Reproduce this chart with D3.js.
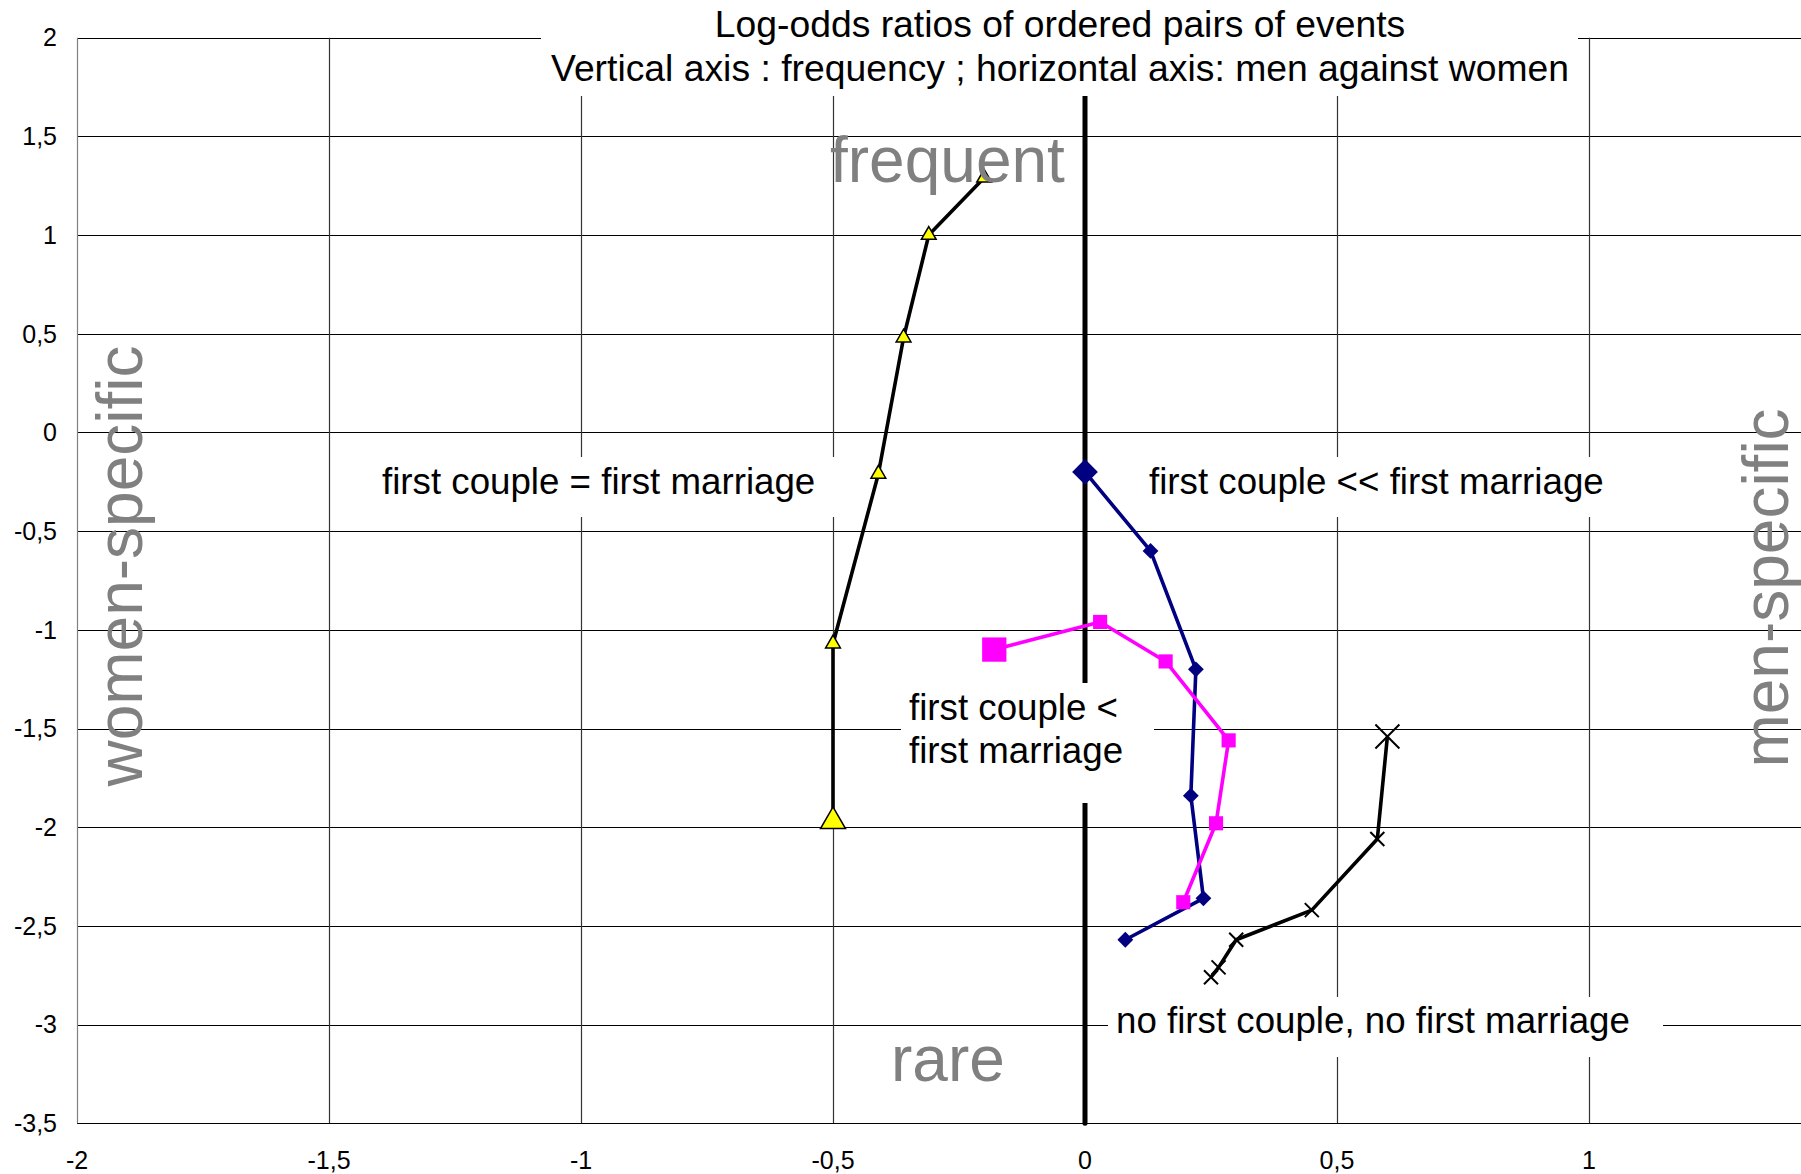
<!DOCTYPE html>
<html>
<head>
<meta charset="utf-8">
<script src="https://cdn.jsdelivr.net/npm/d3@7"></script>
<style>
  body { margin: 0; background: #fff; }
  svg { display: block; font-family: "Liberation Sans", Arial, sans-serif; }
</style>
</head>
<body>
<svg id="graph" width="1801" height="1174"></svg>
<script>
(function() {
// ticks
const xTicks = [-2, -1.5, -1, -0.5, 0, 0.5, 1];
const yTicks = [2, 1.5, 1, 0.5, 0, -0.5, -1, -1.5, -2, -2.5, -3, -3.5];

// series (first point = big marker)
const sameX = [-0.5, -0.5, -0.41, -0.36, -0.31, -0.2];
const sameY = [-1.97, -1.07, -0.21, 0.48, 1.0, 1.29];
const muchX = [0, 0.13, 0.22, 0.21, 0.235, 0.08];
const muchY = [-0.2, -0.6, -1.2, -1.84, -2.36, -2.57];
const lessX = [-0.18, 0.03, 0.16, 0.285, 0.26, 0.195];
const lessY = [-1.1, -0.96, -1.16, -1.56, -1.98, -2.38];
const noneX = [0.6, 0.58, 0.45, 0.3, 0.265, 0.25];
const noneY = [-1.54, -2.06, -2.42, -2.57, -2.71, -2.76];

const titleLines = ['Log-odds ratios of ordered pairs of events',
                    'Vertical axis : frequency ; horizontal axis: men against women'];

const svg_w = 1801;
const svg_h = 1174;

const x = d3.scaleLinear().domain([-2, 1]).range([77, 1589]);
const y = d3.scaleLinear().domain([-3.5, 2]).range([1123.3, 37.7]);

const graph = d3.select('#graph');
const fmt = v => String(v).replace('.', ',');

// grid
graph.append('g').selectAll('line')
  .data(yTicks)
  .enter().append('line')
  .attr('x1', x(-2)).attr('x2', svg_w)
  .attr('y1', d => Math.round(y(d)) + 0.5).attr('y2', d => Math.round(y(d)) + 0.5)
  .attr('stroke', '#000').attr('stroke-width', 1.2);

graph.append('g').selectAll('line')
  .data(xTicks)
  .enter().append('line')
  .attr('x1', d => Math.round(x(d)) + 0.5).attr('x2', d => Math.round(x(d)) + 0.5)
  .attr('y1', y(2)).attr('y2', y(-3.5))
  .attr('stroke', d => d === -2 ? '#808080' : '#333').attr('stroke-width', 1.2);

// tick labels
graph.append('g').selectAll('text')
  .data(yTicks)
  .enter().append('text')
  .attr('x', 57).attr('y', d => y(d))
  .attr('dy', '0.35em')
  .attr('text-anchor', 'end')
  .style('font-size', '25px')
  .text(fmt);

graph.append('g').selectAll('text')
  .data(xTicks)
  .enter().append('text')
  .attr('x', d => x(d)).attr('y', 1160)
  .attr('dy', '0.35em')
  .attr('text-anchor', 'middle')
  .style('font-size', '25px')
  .text(fmt);

// heavy zero line
graph.append('line')
  .attr('x1', x(0)).attr('x2', x(0))
  .attr('y1', y(2)).attr('y2', y(-3.5))
  .attr('stroke', '#000').attr('stroke-width', 5)
  .attr('stroke-linecap', 'round');

// white boxes behind the labels [x0, x1, y0, y1] in pixels
const boxes = [
  [541, 1578, 0, 96],
  [360, 850, 457, 517],
  [1130, 1622, 457, 517],
  [901, 1154, 683, 803],
  [1108, 1663, 997, 1057]
];
graph.append('g').selectAll('rect')
  .data(boxes)
  .enter().append('rect')
  .attr('x', d => d[0]).attr('y', d => d[2])
  .attr('width', d => d[1] - d[0]).attr('height', d => d[3] - d[2])
  .attr('fill', '#fff');

function drawSeries(xs, ys, color, marker) {
  const pts = xs.map((v, i) => ({ x: v, y: ys[i] }));
  const line = d3.line().x(d => x(d.x)).y(d => y(d.y));
  const g = graph.append('g');
  g.append('path')
    .attr('d', line(pts))
    .attr('fill', 'none')
    .attr('stroke', color)
    .attr('stroke-width', 3.6)
    .attr('stroke-linejoin', 'round');
  g.selectAll('.m')
    .data(pts)
    .enter().append('g')
    .attr('class', 'm')
    .attr('transform', d => `translate(${x(d.x)},${y(d.y)})`)
    .each(function(d, i) { marker(d3.select(this), i === 0); });
}

function triangle(sel, big) {
  sel.append('path')
    .attr('d', d3.symbol(d3.symbolTriangle, big ? 270 : 95)())
    .attr('fill', '#ffff00').attr('stroke', '#000').attr('stroke-width', 1.5);
}
function diamond(sel, big) {
  sel.append('path')
    .attr('d', d3.symbol(d3.symbolSquare, big ? 330 : 125)())
    .attr('transform', 'rotate(45)')
    .attr('fill', '#000080');
}
function square(sel, big) {
  sel.append('path')
    .attr('d', d3.symbol(d3.symbolSquare, big ? 590 : 200)())
    .attr('fill', '#ff00ff');
}
function cross(sel, big) {
  const r = big ? 12 : 7;
  sel.append('path')
    .attr('d', `M${-r},${-r}L${r},${r}M${-r},${r}L${r},${-r}`)
    .attr('stroke', '#000').attr('stroke-width', 2);
}

drawSeries(sameX, sameY, '#000', triangle);
drawSeries(muchX, muchY, '#000080', diamond);
drawSeries(lessX, lessY, '#ff00ff', square);
drawSeries(noneX, noneY, '#000', cross);

// title
graph.append('g').selectAll('text')
  .data(titleLines)
  .enter().append('text')
  .attr('x', 1060).attr('y', (d, i) => 37 + i * 44)
  .attr('text-anchor', 'middle')
  .style('font-size', '37.3px')
  .text(d => d);

// region labels
const labels = [
  { t: 'first couple = first marriage', x: 382, y: 494 },
  { t: 'first couple << first marriage', x: 1149, y: 494 },
  { t: 'first couple <', x: 909, y: 720 },
  { t: 'first marriage', x: 909, y: 763 },
  { t: 'no first couple, no first marriage', x: 1116, y: 1033 }
];
graph.append('g').selectAll('text')
  .data(labels)
  .enter().append('text')
  .attr('x', d => d.x).attr('y', d => d.y)
  .style('font-size', '36.7px')
  .text(d => d.t);

// big grey words
const grey = '#808080';
graph.append('text').attr('x', 830).attr('y', 182)
  .style('font-size', '64px').attr('fill', grey).text('frequent');
graph.append('text').attr('x', 891).attr('y', 1081)
  .style('font-size', '64px').attr('fill', grey).text('rare');
graph.append('text')
  .attr('transform', 'translate(142,566) rotate(-90)')
  .attr('text-anchor', 'middle')
  .style('font-size', '64px').attr('fill', grey).text('women-specific');
graph.append('text')
  .attr('transform', 'translate(1788,588) rotate(-90)')
  .attr('text-anchor', 'middle')
  .style('font-size', '64px').attr('fill', grey).text('men-specific');
})();
</script>
</body>
</html>
